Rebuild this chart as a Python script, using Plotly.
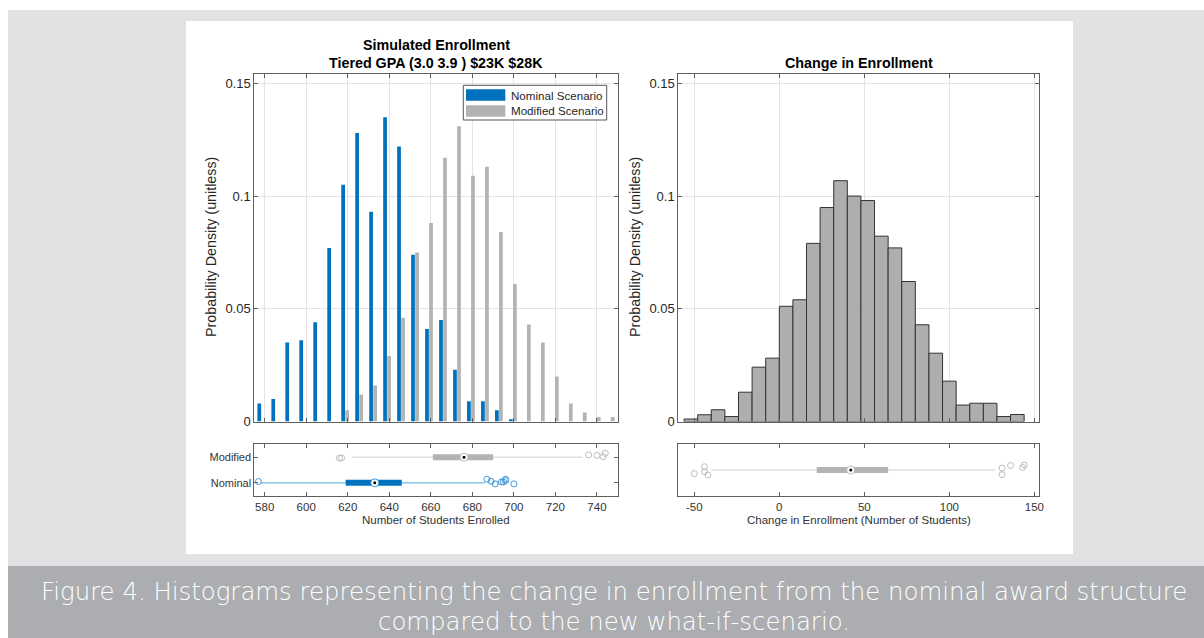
import plotly.graph_objects as go

# ---------------- data ----------------
# Left histogram: 26 bins over [575, 750]
enroll_bin_centers = [578.37, 585.10, 591.83, 598.56, 605.29, 612.02, 618.75, 625.48,
                      632.21, 638.94, 645.67, 652.40, 659.13, 665.87, 672.60, 679.33,
                      686.06, 692.79, 699.52, 706.25, 712.98, 719.71, 726.44, 733.17,
                      739.90, 746.63]
nominal_prob = [0.008, 0.010, 0.035, 0.036, 0.044, 0.077, 0.105, 0.128, 0.093, 0.135,
                0.122, 0.074, 0.041, 0.045, 0.023, 0.009, 0.009, 0.005, 0.001, 0, 0,
                0, 0, 0, 0, 0]
modified_prob = [0, 0, 0, 0, 0, 0, 0.005, 0.012, 0.016, 0.029, 0.046, 0.075, 0.088,
                 0.117, 0.131, 0.109, 0.113, 0.084, 0.061, 0.043, 0.035, 0.020, 0.008,
                 0.004, 0.002, 0.002]
enroll_ticks = [580, 600, 620, 640, 660, 680, 700, 720, 740]

# Right histogram: bins of width 8 from -56 to 144
change_bin_centers = [-52, -44, -36, -28, -20, -12, -4, 4, 12, 20, 28, 36, 44, 52, 60,
                      68, 76, 84, 92, 100, 108, 116, 124, 132, 140]
change_prob = [0.0011, 0.0030, 0.0052, 0.0022, 0.0130, 0.0241, 0.0281, 0.0511, 0.0540,
               0.0790, 0.0949, 0.1068, 0.1000, 0.0980, 0.0822, 0.0770, 0.0621, 0.0429,
               0.0303, 0.0179, 0.0073, 0.0081, 0.0081, 0.0022, 0.0031]
change_ticks = [-50, 0, 50, 100, 150]
density_ticks = [0, 0.05, 0.1, 0.15]
density_ticktext = ["0", "0.05", "0.1", "0.15"]

# Box-plot summaries (compact style): lower whisker, q1, median, q3, upper whisker
nominal_box = [578, 619, 633, 646, 686]
modified_box = [622, 661, 676, 690, 733]
change_box = [-40, 22, 42, 64, 127]
nominal_outliers = [577, 687, 689, 691, 694, 695, 696, 696, 700]
nominal_jitter = [0.05, 0.14, 0.06, -0.04, 0.035, 0.035, 0.14, 0.086, -0.04]
modified_outliers = [616, 617, 736, 740, 743, 744]
modified_jitter = [-0.04, -0.03, 0.09, 0.07, 0.02, 0.15]
change_outliers = [-50, -44, -44, -42, 131, 131, 136, 143, 144]
change_jitter = [-0.07, 0.064, -0.033, -0.096, 0.038, -0.09, 0.088, 0.05, 0.096]
box_categories = ["Nominal", "Modified"]

# ---------------- layout helpers ----------------
W, H = 1204, 638
def px(x):
    return x / W
def py(y):
    return 1 - y / H

FONT = "Liberation Sans, Arial, Helvetica, sans-serif"
BLUE = "#0072BD"
GRAY = "#B3B3B3"
AXC = "#5f5f5f"
GRID = "#e4e4e4"
TXT = "#262626"

BW = 1.8      # bar width (data units) for grouped bars
OFF = 0.97    # half-distance between grouped bar centres

fig = go.Figure()

# Left histogram (grouped bars)
fig.add_trace(go.Bar(x=enroll_bin_centers, y=nominal_prob, width=BW, offset=-OFF - BW / 2,
                     marker=dict(color=BLUE, line=dict(width=0)), xaxis="x", yaxis="y",
                     showlegend=False))
fig.add_trace(go.Bar(x=enroll_bin_centers, y=modified_prob, width=BW, offset=OFF - BW / 2,
                     marker=dict(color=GRAY, line=dict(width=0)), xaxis="x", yaxis="y",
                     showlegend=False))

# Right histogram
fig.add_trace(go.Bar(x=change_bin_centers, y=change_prob, width=8,
                     marker=dict(color="#AEAEAE", line=dict(color="#333333", width=1)),
                     xaxis="x3", yaxis="y3", showlegend=False))


def compact_box(stats, pos, outliers, jitter, box_col, whisk_col, out_col, xa, ya):
    lo, q1, med, q3, hi = stats
    fig.add_trace(go.Scatter(x=[lo, hi], y=[pos, pos], mode="lines",
                             line=dict(color=whisk_col, width=1), xaxis=xa, yaxis=ya,
                             showlegend=False, hoverinfo="skip"))
    fig.add_trace(go.Scatter(x=[q1, q3], y=[pos, pos], mode="lines",
                             line=dict(color=box_col, width=6), xaxis=xa, yaxis=ya,
                             showlegend=False, hoverinfo="skip"))
    fig.add_trace(go.Scatter(x=[med], y=[pos], mode="markers",
                             marker=dict(symbol="circle", size=8, color="white",
                                         line=dict(color=out_col, width=1)),
                             xaxis=xa, yaxis=ya, showlegend=False))
    fig.add_trace(go.Scatter(x=[med], y=[pos], mode="markers",
                             marker=dict(symbol="circle", size=3, color="black",
                                         line=dict(width=0)),
                             xaxis=xa, yaxis=ya, showlegend=False))
    fig.add_trace(go.Scatter(x=outliers, y=[pos + j for j in jitter], mode="markers",
                             marker=dict(symbol="circle-open", size=6, color=out_col,
                                         line=dict(width=1)),
                             xaxis=xa, yaxis=ya, showlegend=False))


compact_box(nominal_box, 1, nominal_outliers, nominal_jitter, BLUE, "#55a7e0", "#3f98da",
            "x2", "y2")
compact_box(modified_box, 2, modified_outliers, modified_jitter, GRAY, "#cfcfcf", "#bdbdbd",
            "x2", "y2")
compact_box(change_box, 1, change_outliers, change_jitter, GRAY, "#cfcfcf", "#bdbdbd",
            "x4", "y4")

axis_common = dict(showline=True, linecolor=AXC, linewidth=1, mirror="ticks", ticks="inside",
                   ticklen=4, tickcolor=AXC, zeroline=False, fixedrange=True,
                   automargin=False)

L0, L1 = px(254.3), px(617.7)
R0, R1 = px(678.3), px(1039.3)
HIST_Y = [py(421.5), py(74.3)]
BOX_Y = [py(495.7), py(444.3)]

fig.update_layout(
    width=W, height=H, margin=dict(l=0, r=0, t=0, b=0, pad=0, autoexpand=False),
    paper_bgcolor="white", plot_bgcolor="white", barmode="overlay", showlegend=False,
    font=dict(family=FONT, color=TXT),
    xaxis=dict(domain=[L0, L1], range=[575, 750], tickvals=enroll_ticks,
               showticklabels=False, showgrid=True, gridcolor=GRID, anchor="y",
               **axis_common),
    yaxis=dict(domain=HIST_Y, range=[0, 0.154], tickvals=density_ticks,
               ticktext=density_ticktext, showgrid=True, gridcolor=GRID, anchor="x",
               tickfont=dict(size=13, color=TXT), **axis_common),
    xaxis2=dict(domain=[L0, L1], range=[575, 750], tickvals=enroll_ticks,
                ticktext=[str(t) for t in enroll_ticks], showgrid=False, anchor="y2",
                tickfont=dict(size=11.5, color="#333333"), **axis_common),
    yaxis2=dict(domain=BOX_Y, range=[0.5, 2.5], tickvals=[1, 2], ticktext=box_categories,
                showgrid=False, anchor="x2", tickfont=dict(size=11, color="#333333"),
                **axis_common),
    xaxis3=dict(domain=[R0, R1], range=[-59.4, 152.9], tickvals=change_ticks,
                showticklabels=False, showgrid=True, gridcolor=GRID, anchor="y3",
                **axis_common),
    yaxis3=dict(domain=HIST_Y, range=[0, 0.154], tickvals=density_ticks,
                ticktext=density_ticktext, showgrid=True, gridcolor=GRID, anchor="x3",
                tickfont=dict(size=13, color=TXT), **axis_common),
    xaxis4=dict(domain=[R0, R1], range=[-59.4, 152.9], tickvals=change_ticks,
                ticktext=[str(t) for t in change_ticks], showgrid=False, anchor="y4",
                tickfont=dict(size=11.5, color="#333333"), **axis_common),
    yaxis4=dict(domain=BOX_Y, range=[0.5, 1.5], tickvals=[], showticklabels=False,
                showgrid=False, anchor="x4", **axis_common),
)

shapes = [
    dict(type="rect", xref="paper", yref="paper", x0=px(8), x1=px(1204), y0=py(566), y1=py(10),
         fillcolor="#e1e2e4", line=dict(width=0), layer="below"),
    dict(type="rect", xref="paper", yref="paper", x0=px(186), x1=px(1073), y0=py(554), y1=py(21),
         fillcolor="white", line=dict(width=0), layer="below"),
    dict(type="rect", xref="paper", yref="paper", x0=px(8), x1=px(1204), y0=py(638), y1=py(566),
         fillcolor="#abadb0", line=dict(width=0), layer="below"),
    # legend box and swatches
    dict(type="rect", xref="paper", yref="paper", x0=px(463.3), x1=px(606.7), y0=py(120), y1=py(85.3),
         fillcolor="white", line=dict(color="#555555", width=1), layer="above"),
    dict(type="rect", xref="paper", yref="paper", x0=px(466), x1=px(505.3), y0=py(100.7), y1=py(89.3),
         fillcolor=BLUE, line=dict(width=0), layer="above"),
    dict(type="rect", xref="paper", yref="paper", x0=px(466), x1=px(505.3), y0=py(116.7), y1=py(105.3),
         fillcolor=GRAY, line=dict(width=0), layer="above"),
]
fig.update_layout(shapes=shapes)

ann = []
def text(x, y, s, size, color=TXT, bold=False, angle=0, xanchor="center", family=FONT,
         weight=None):
    ann.append(dict(x=px(x), y=py(y), xref="paper", yref="paper", text=s, showarrow=False,
                    xanchor=xanchor, yanchor="middle", textangle=angle,
                    font=dict(size=size, color=color, family=family,
                              weight=weight if weight else ("bold" if bold else "normal"))))

text(436, 45, "Simulated Enrollment", 14.3, color="#000000", bold=True)
text(436, 62.5, "Tiered GPA (3.0 3.9 ) $23K $28K", 14.3, color="#000000", bold=True)
text(859, 63, "Change in Enrollment", 14.3, color="#000000", bold=True)
text(211, 247, "Probability Density (unitless)", 14.3, angle=-90)
text(635, 247, "Probability Density (unitless)", 14.3, angle=-90)
text(436, 519.5, "Number of Students Enrolled", 11.5, color="#333333")
text(859, 519.5, "Change in Enrollment (Number of Students)", 11.5, color="#333333")
text(509, 95.5, "Nominal Scenario", 11.6, xanchor="left")
text(509, 111, "Modified Scenario", 11.6, xanchor="left")
CAP_FONT = "DejaVu Sans, Open Sans, sans-serif"
text(614, 591.5, "Figure 4. Histograms representing the change in enrollment from the nominal award structure",
     24.4, color="#ffffff", family=CAP_FONT, weight=200)
text(614, 621.5, "compared to the new what-if-scenario.", 24.4, color="#ffffff",
     family=CAP_FONT, weight=200)
fig.update_layout(annotations=ann)

# the page body defaults to an 8px margin; remove it so the figure fills the window exactly
fig.write_html("out.html", config={"displayModeBar": False, "staticPlot": True},
               post_script="document.body.style.margin='0';"
                           "document.documentElement.style.overflow='hidden';")
